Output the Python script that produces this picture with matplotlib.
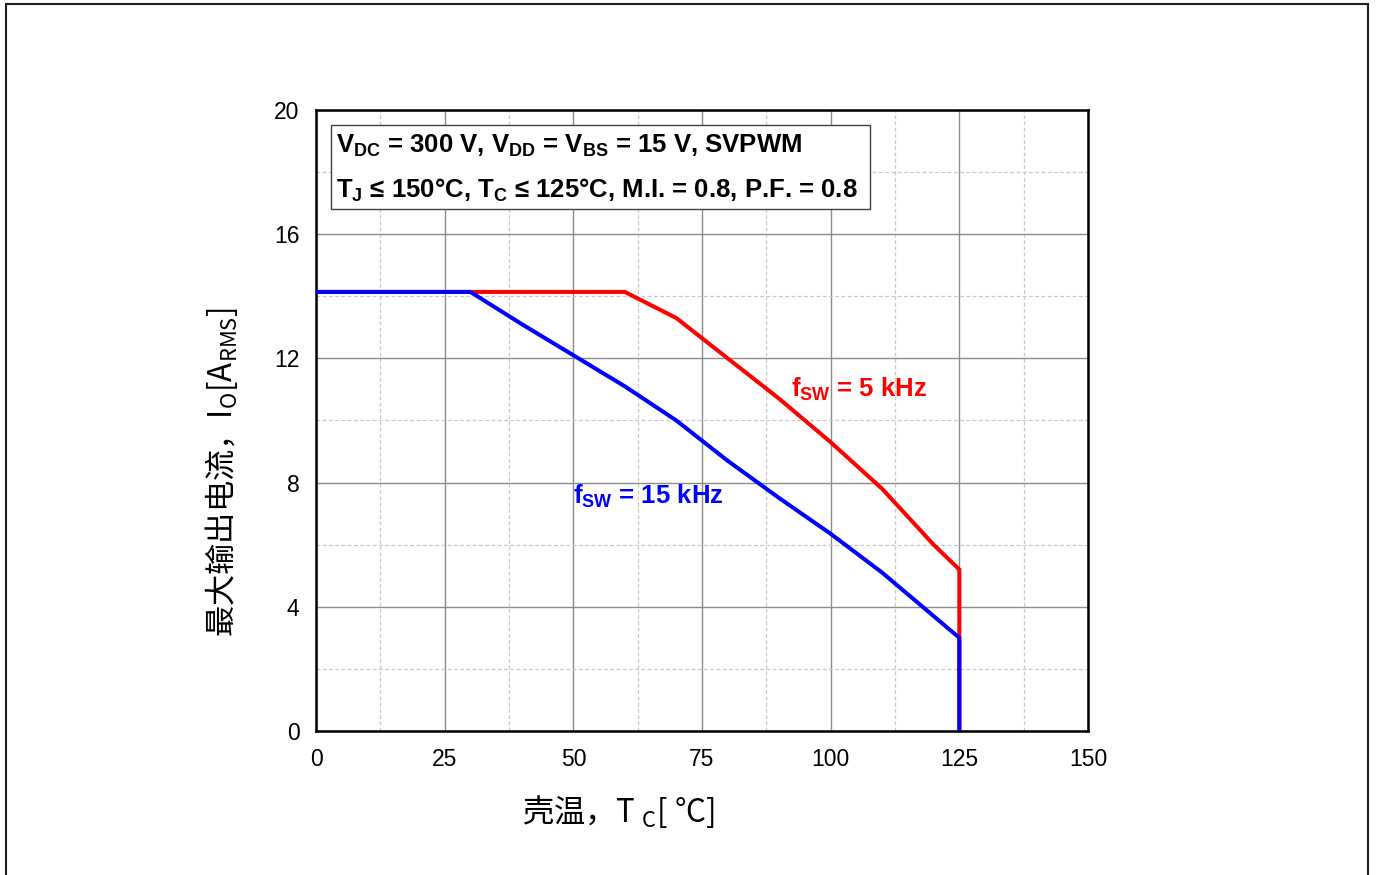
import numpy as np
import matplotlib
matplotlib.use("Agg")
import matplotlib.pyplot as plt
from matplotlib.patches import Rectangle
from matplotlib.ticker import MultipleLocator

# curve data
tc_5k = [0, 60, 70, 80, 90, 100, 110, 120, 125, 125]
io_5k = [14.14, 14.14, 13.3, 12.0, 10.7, 9.3, 7.8, 6.0, 5.2, 0.0]
tc_15k = [0, 30, 40, 50, 60, 70, 80, 90, 100, 110, 125, 125]
io_15k = [14.14, 14.14, 13.1, 12.1, 11.1, 10.0, 8.7, 7.5, 6.35, 5.1, 3.0, 0.0]

x_ticks = [0, 25, 50, 75, 100, 125, 150]
y_ticks = [0, 4, 8, 12, 16, 20]

cond_line1 = r"V$_\mathregular{DC}$ = 300 V, V$_\mathregular{DD}$ = V$_\mathregular{BS}$ = 15 V, SVPWM"
cond_line2 = r"T$_\mathregular{J}$ ≤ 150°C, T$_\mathregular{C}$ ≤ 125°C, M.I. = 0.8, P.F. = 0.8"
label_5k = r"f$_\mathregular{SW}$ = 5 kHz"
label_15k = r"f$_\mathregular{SW}$ = 15 kHz"
ylabel = r"最大输出电流，I$_\mathregular{O}$[A$_\mathregular{RMS}$]"
xlabel = r"壳温，T $_\mathregular{C}$[ °C]"

plt.rcParams['font.family'] = ['Liberation Sans', 'DejaVu Sans']
plt.rcParams['mathtext.fontset'] = 'custom'

fig = plt.figure(figsize=(13.76, 8.75), dpi=100)
ax = fig.add_axes([0.2297, 0.1646, 0.5610, 0.7097])

ax.plot(tc_5k, io_5k, color='#ff0000', lw=2.9, solid_joinstyle='miter', zorder=4)
ax.plot(tc_15k, io_15k, color='#0000ff', lw=2.9, solid_joinstyle='miter', zorder=5)

ax.set_xlim(0, 150)
ax.set_ylim(0, 20)
ax.set_xticks(x_ticks)
ax.set_yticks(y_ticks)
ax.xaxis.set_minor_locator(MultipleLocator(12.5))
ax.yaxis.set_minor_locator(MultipleLocator(2))
ax.grid(which='major', color='#8c8c8c', lw=1.0, ls='-')
ax.grid(which='minor', color='#c8c8c8', lw=0.9, ls=(0, (3, 2)))
ax.set_axisbelow(True)
ax.tick_params(which='both', length=0, labelsize=16.5, pad=12)
for s in ax.spines.values():
    s.set_linewidth(1.8)
    s.set_color('black')

# condition box
ax.add_patch(Rectangle((0.0194, 0.8406), 0.6982, 0.1352, transform=ax.transAxes,
                       facecolor='white', edgecolor='#404040', lw=1.0, zorder=6))
ax.text(0.0259, 0.942, cond_line1, transform=ax.transAxes, fontsize=18.5,
        fontweight='bold', ha='left', va='center', zorder=7)
ax.text(0.0259, 0.870, cond_line2, transform=ax.transAxes, fontsize=18.5,
        fontweight='bold', ha='left', va='center', zorder=7)

ax.text(92.3, 11.0, label_5k, color='#ff0000', fontsize=18.5, fontweight='bold',
        ha='left', va='center', zorder=7)
ax.text(49.9, 7.55, label_15k, color='#0000ff', fontsize=18.5, fontweight='bold',
        ha='left', va='center', zorder=7)

fig.text(222 / 1376, 1 - 472 / 875, ylabel, rotation=90, fontsize=22.5,
         family=['Noto Sans CJK SC', 'DejaVu Sans'], ha='center', va='center')
fig.text(618 / 1376, 1 - 812 / 875, xlabel, fontsize=22.5,
         family=['Noto Sans CJK SC', 'DejaVu Sans'], ha='center', va='center')

# outer frame
fig.patches.append(Rectangle((6 / 1376, -0.02), 1362 / 1376, 1.02 - 4 / 875,
                             transform=fig.transFigure, fill=False,
                             edgecolor='#202020', lw=1.5))

fig.savefig('out.png', dpi=100)
